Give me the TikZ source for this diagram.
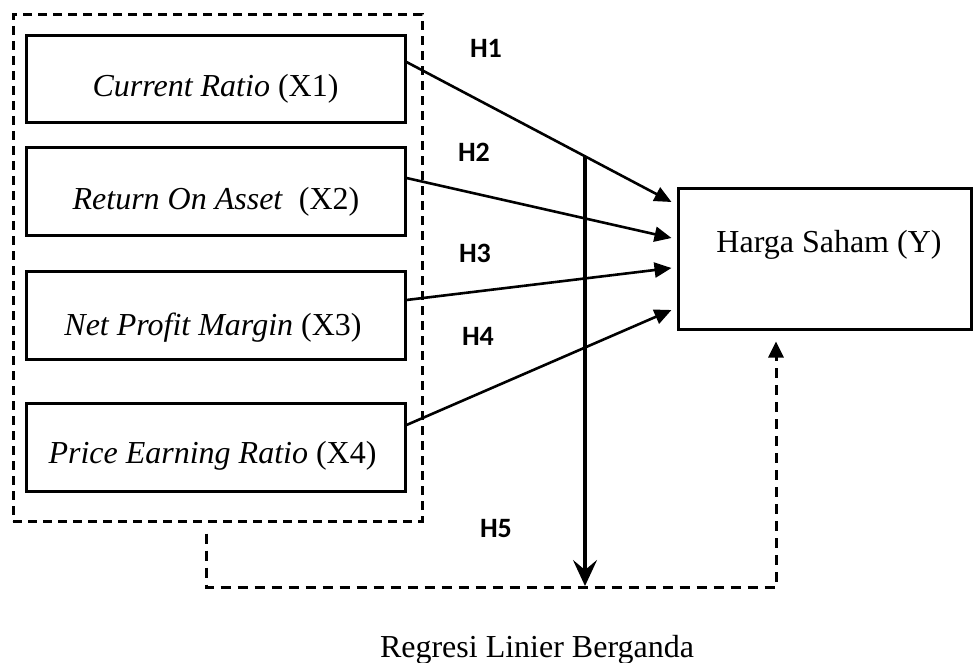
\documentclass[tikz,border=0pt]{standalone}
\usepackage{fontspec}
\setmainfont{Liberation Serif}
\newfontfamily\hypfont{Carlito}
\usetikzlibrary{arrows.meta}

\tikzset{
  varbox/.style={draw, line width=3pt, minimum width=379pt, inner sep=0pt},
  grpbox/.style={draw, line width=3pt, dash pattern=on 9pt off 6pt, inner sep=0pt},
  vartext/.style={anchor=base, inner sep=0pt, font=\fontsize{32}{36}\selectfont},
  hyp/.style={anchor=base, inner sep=0pt, font=\hypfont\bfseries\fontsize{28}{32}\selectfont},
  effect/.style={line width=2.6pt, -{Triangle[length=17pt,width=15pt]}},
  joint/.style={line width=3.2pt, -{Stealth[length=26pt,width=24pt,inset=10pt]}},
  feedback/.style={line width=3pt, dash pattern=on 10pt off 7pt, -{Triangle[length=16pt,width=15pt]}}
}

\begin{document}
\begin{tikzpicture}[x=1pt, y=-1pt]
\useasboundingbox (0,0) rectangle (974,663);

% group of independent variables
\node[grpbox, minimum width=409pt, minimum height=506pt] (grp) at (217.5,268) {};

% independent variables
\node[varbox, minimum height=87pt] (x1) at (215.5,79.5) {};
\node[varbox, minimum height=87pt] (x2) at (215.5,191.5) {};
\node[varbox, minimum height=88pt] (x3) at (215.5,315) {};
\node[varbox, minimum height=88pt] (x4) at (215.5,447) {};

\node[vartext] (t1) at (215.5,97)  {\textit{Current Ratio} (X1)};
\node[vartext] (t2) at (216,209)   {\textit{Return On Asset}\ \ (X2)};
\node[vartext] (t3) at (213,335)   {\textit{Net Profit Margin} (X3)};
\node[vartext] (t4) at (212.5,463) {\textit{Price Earning Ratio} (X4)};

% dependent variable
\node[draw, line width=3pt, minimum width=293pt, minimum height=140pt, inner sep=0pt] (hs) at (824.5,259) {};
\node[vartext] (ty) at (829,252) {Harga Saham (Y)};

% hypothesis labels
\node[hyp] (h1) at (486,58)  {H1};
\node[hyp] (h2) at (474,162) {H2};
\node[hyp] (h3) at (475,262) {H3};
\node[hyp] (h4) at (478,345) {H4};
\node[hyp] (h5) at (496,537) {H5};

% partial effects
\draw[effect] ([yshift=17.5pt]x1.east) -- ([xshift=-5pt,yshift=57pt]hs.west);
\draw[effect] ([yshift=13.5pt]x2.east) -- ([xshift=-5pt,yshift=21pt]hs.west);
\draw[effect] ([yshift=15pt]x3.east)   -- ([xshift=-5pt,yshift=-9pt]hs.west);
\draw[effect] ([yshift=22pt]x4.east)   -- ([xshift=-5pt,yshift=-51pt]hs.west);

% simultaneous effect
\coordinate (top) at (585,157);
\coordinate (bot) at (585,587);
\draw[joint] (top) -- ([yshift=1pt]bot);

\draw[feedback] ([xshift=-11.5pt,yshift=-11pt]grp.south) |- (bot) -| ([xshift=-48.5pt,yshift=-11pt]hs.south);

% caption
\node[vartext] (cap) at (537,657) {Regresi Linier Berganda};
\end{tikzpicture}
\end{document}
